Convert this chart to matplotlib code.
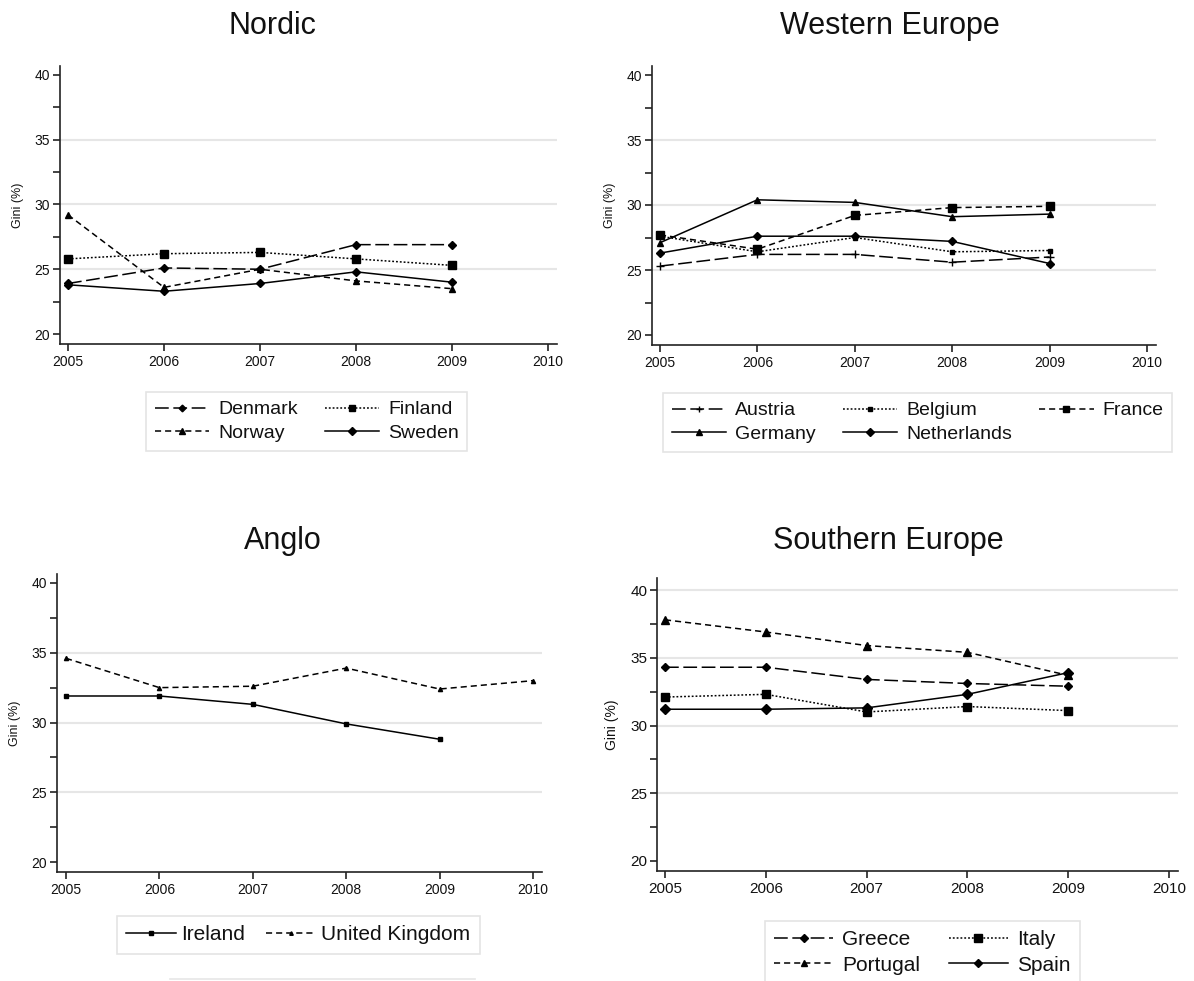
import matplotlib
matplotlib.use("Agg")
import matplotlib.pyplot as plt
from matplotlib.lines import Line2D
from matplotlib.ticker import MultipleLocator

plt.rcParams['font.family'] = ['Liberation Sans', 'DejaVu Sans']

# ---------------- data ----------------
years = [2005, 2006, 2007, 2008, 2009]
years_uk = [2005, 2006, 2007, 2008, 2009, 2010]

denmark = [23.9, 25.1, 25.0, 26.9, 26.9]
finland = [25.8, 26.2, 26.3, 25.8, 25.3]
norway = [29.2, 23.6, 25.0, 24.1, 23.5]
sweden = [23.8, 23.3, 23.9, 24.8, 24.0]

austria = [25.3, 26.2, 26.2, 25.6, 26.0]
belgium = [27.6, 26.4, 27.5, 26.4, 26.5]
france = [27.7, 26.6, 29.2, 29.8, 29.9]
germany = [27.1, 30.4, 30.2, 29.1, 29.3]
netherlands = [26.3, 27.6, 27.6, 27.2, 25.5]

ireland = [31.9, 31.9, 31.3, 29.9, 28.8]
uk = [34.6, 32.5, 32.6, 33.9, 32.4, 33.0]

greece = [34.3, 34.3, 33.4, 33.1, 32.9]
italy = [32.1, 32.3, 31.0, 31.4, 31.1]
portugal = [37.8, 36.9, 35.9, 35.4, 33.7]
spain = [31.2, 31.2, 31.3, 32.3, 33.9]

xticks = [2005, 2006, 2007, 2008, 2009, 2010]
yticks = [20, 25, 30, 35, 40]
ylabel = "Gini (%)"

# ---------------- layout helpers ----------------
W, H = 1194, 981
fig = plt.figure(figsize=(W / 100, H / 100), dpi=100)
TXT = '#111111'
GRID = '#e6e6e6'

LONG = (0, (9, 3))
SHORT = (0, (4, 2.6))
DOT = (0, (1.2, 1.3))
SOLID = '-'


def make_ax(L, R, T, B, x05, x10, y40, y20, fs, grid40=False):
    ax = fig.add_axes([L / W, 1 - B / H, (R - L) / W, (B - T) / H])
    pxy = (x10 - x05) / 5.0
    pyu = (y20 - y40) / 20.0
    ax.set_xlim(2005 - (x05 - L) / pxy, 2010 + (R - x10) / pxy)
    ax.set_ylim(20 - (B - y20) / pyu, 40 + (y40 - T) / pyu)
    for s in ['top', 'right']:
        ax.spines[s].set_visible(False)
    for s in ['left', 'bottom']:
        ax.spines[s].set_linewidth(1.2)
        ax.spines[s].set_color('#222222')
    ax.set_xticks(xticks)
    ax.set_yticks(yticks)
    ax.yaxis.set_minor_locator(MultipleLocator(2.5))
    ax.tick_params(axis='both', which='both', direction='out', length=5,
                   width=1.2, color='#222222', labelsize=fs, labelcolor=TXT)
    ax.tick_params(axis='x', pad=3)
    ax.tick_params(axis='y', pad=2)
    glines = [25, 30, 35] + ([40] if grid40 else [])
    for g in glines:
        ax.axhline(g, color=GRID, lw=1.5, zorder=0)
    ax.set_ylabel(ylabel, fontsize=fs - 1, color=TXT, labelpad=8)
    return ax


def series(ax, x, y, ls, marker, ms, label):
    ln, = ax.plot(x, y, color='black', lw=1.1, linestyle=ls, marker=marker,
                  markersize=ms, markerfacecolor='black',
                  markeredgecolor='black', label=label)
    return ln


def legend(ax, handles, ncol, x, y, fs, colsp, hl=2.8, htp=0.45):
    leg = ax.legend(handles=handles, ncol=ncol, loc='upper left',
                    bbox_to_anchor=(x / W, 1 - y / H),
                    bbox_transform=fig.transFigure, borderaxespad=0,
                    frameon=True, fancybox=False, fontsize=fs,
                    handlelength=hl, handletextpad=htp, columnspacing=colsp,
                    labelspacing=0.3, borderpad=0.45, numpoints=1,
                    labelcolor=TXT, markerscale=0.85)
    fr = leg.get_frame()
    fr.set_edgecolor('#dddddd')
    fr.set_linewidth(1.2)
    return leg


TFS = 22

# ---------------- Nordic ----------------
ax1 = make_ax(60, 557, 66, 344, 68, 548, 75, 334, 10)
h_dk = series(ax1, years, denmark, LONG, 'D', 4, 'Denmark')
h_fi = series(ax1, years, finland, DOT, 's', 5.5, 'Finland')
h_no = series(ax1, years, norway, SHORT, '^', 5, 'Norway')
h_se = series(ax1, years, sweden, SOLID, 'D', 4.5, 'Sweden')
legend(ax1, [h_dk, h_no, h_fi, h_se], 2, 146, 392, 14, 1.4)
fig.text(272 / W, 1 - 26 / H, 'Nordic', ha='center', va='center',
         fontsize=TFS, color=TXT)

# ---------------- Western Europe ----------------
ax2 = make_ax(652, 1156, 66, 345, 660, 1147, 75, 335, 10)
h_at = series(ax2, years, austria, LONG, '+', 5.5, 'Austria')
h_be = series(ax2, years, belgium, DOT, 's', 3.5, 'Belgium')
h_fr = series(ax2, years, france, SHORT, 's', 5.5, 'France')
h_de = series(ax2, years, germany, SOLID, '^', 5, 'Germany')
h_nl = series(ax2, years, netherlands, SOLID, 'D', 4.5, 'Netherlands')
legend(ax2, [h_at, h_de, h_be, h_nl, h_fr], 3, 663, 393, 14, 1.4)
fig.text(890 / W, 1 - 26 / H, 'Western Europe', ha='center', va='center',
         fontsize=TFS, color=TXT)

# ---------------- Anglo ----------------
ax3 = make_ax(57, 542, 574, 872, 66, 533, 583, 862, 10)
h_ie = series(ax3, years, ireland, SOLID, 's', 3.5, 'Ireland')
h_uk = series(ax3, years_uk, uk, SHORT, '^', 3, 'United Kingdom')
legend(ax3, [h_ie, h_uk], 2, 117, 916, 15, 1.0, hl=2.4, htp=0.25)
fig.text(283 / W, 1 - 541 / H, 'Anglo', ha='center', va='center',
         fontsize=TFS, color=TXT)
fig.add_artist(Line2D([170 / W, 475 / W], [1 - 979 / H, 1 - 979 / H],
                      color='#e6e6e6', lw=1.2))

# ---------------- Southern Europe ----------------
ax4 = make_ax(657, 1178, 578, 871, 665, 1169, 590, 861, 11, grid40=True)
h_gr = series(ax4, years, greece, LONG, 'D', 4.5, 'Greece')
h_it = series(ax4, years, italy, DOT, 's', 6, 'Italy')
h_pt = series(ax4, years, portugal, SHORT, '^', 5.5, 'Portugal')
h_es = series(ax4, years, spain, SOLID, 'D', 5, 'Spain')
legend(ax4, [h_gr, h_pt, h_it, h_es], 2, 765, 921, 15, 1.4)
fig.text(888 / W, 1 - 541 / H, 'Southern Europe', ha='center', va='center',
         fontsize=TFS, color=TXT)

fig.savefig('out.png', dpi=100, facecolor='white')
